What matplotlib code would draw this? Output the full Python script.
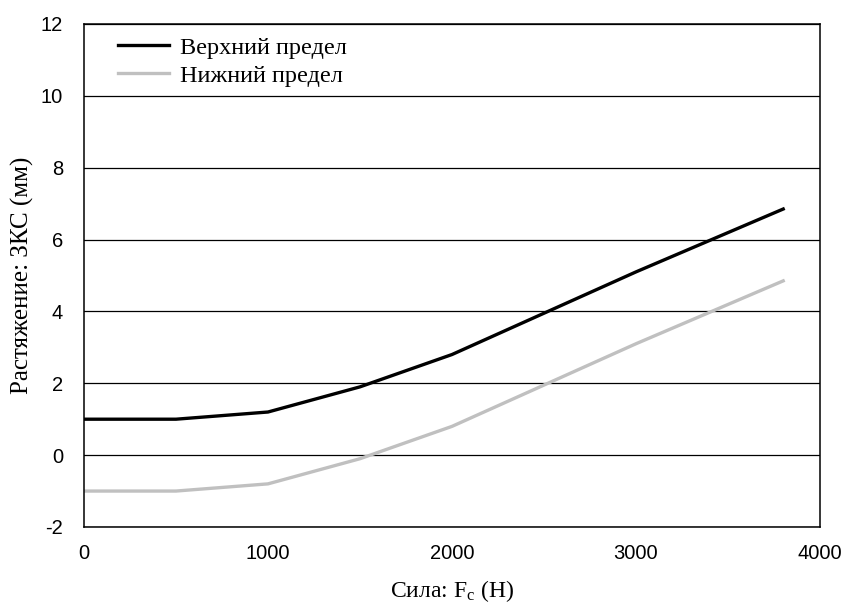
import matplotlib
matplotlib.use('Agg')
import matplotlib.pyplot as plt

force = [0, 500, 1000, 1500, 2000, 3000, 3800]
upper = [1.0, 1.0, 1.2, 1.9, 2.8, 5.1, 6.85]
lower = [-1.0, -1.0, -0.8, -0.1, 0.8, 3.1, 4.85]
x_ticks = [0, 1000, 2000, 3000, 4000]
y_ticks = [-2, 0, 2, 4, 6, 8, 10, 12]

plt.rcParams['axes.unicode_minus'] = False
plt.rcParams['mathtext.fontset'] = 'custom'
plt.rcParams['mathtext.rm'] = 'Liberation Serif'
plt.rcParams['mathtext.it'] = 'Liberation Serif:italic'

serif = ['Liberation Serif', 'DejaVu Serif']
sans = ['Liberation Sans', 'DejaVu Sans']

fig = plt.figure(figsize=(8.5, 6.06), dpi=100)
ax = fig.add_axes([0.0988, 0.1304, 0.8659, 0.83])

ax.plot(force, upper, color='black', lw=2.4, label='Верхний предел')
ax.plot(force, lower, color='#c0c0c0', lw=2.4, label='Нижний предел')

ax.set_xlim(0, 4000)
ax.set_ylim(-2, 12)
ax.set_xticks(x_ticks)
ax.set_yticks(y_ticks)
ax.yaxis.grid(True, color='black', lw=0.9)
ax.set_axisbelow(True)
ax.tick_params(length=0, labelsize=14.5)
ax.tick_params(axis='x', pad=12)
ax.tick_params(axis='y', pad=15)
for lab in ax.get_xticklabels() + ax.get_yticklabels():
    lab.set_family(sans)
for s in ax.spines.values():
    s.set_linewidth(1.1)

ax.set_xlabel('Сила: F$_\\mathrm{c}$ (Н)', family=serif, fontsize=17, labelpad=11)
ax.set_ylabel('Растяжение: ЗКС (мм)', family=serif, fontsize=18, labelpad=5)

leg = ax.legend(loc='upper left', frameon=False, prop={'family': serif, 'size': 17.5},
                handlelength=2.1, handletextpad=0.45, labelspacing=0.25,
                borderaxespad=0, borderpad=0, bbox_to_anchor=(0.046, 0.975))

fig.savefig('out.png', dpi=100)
